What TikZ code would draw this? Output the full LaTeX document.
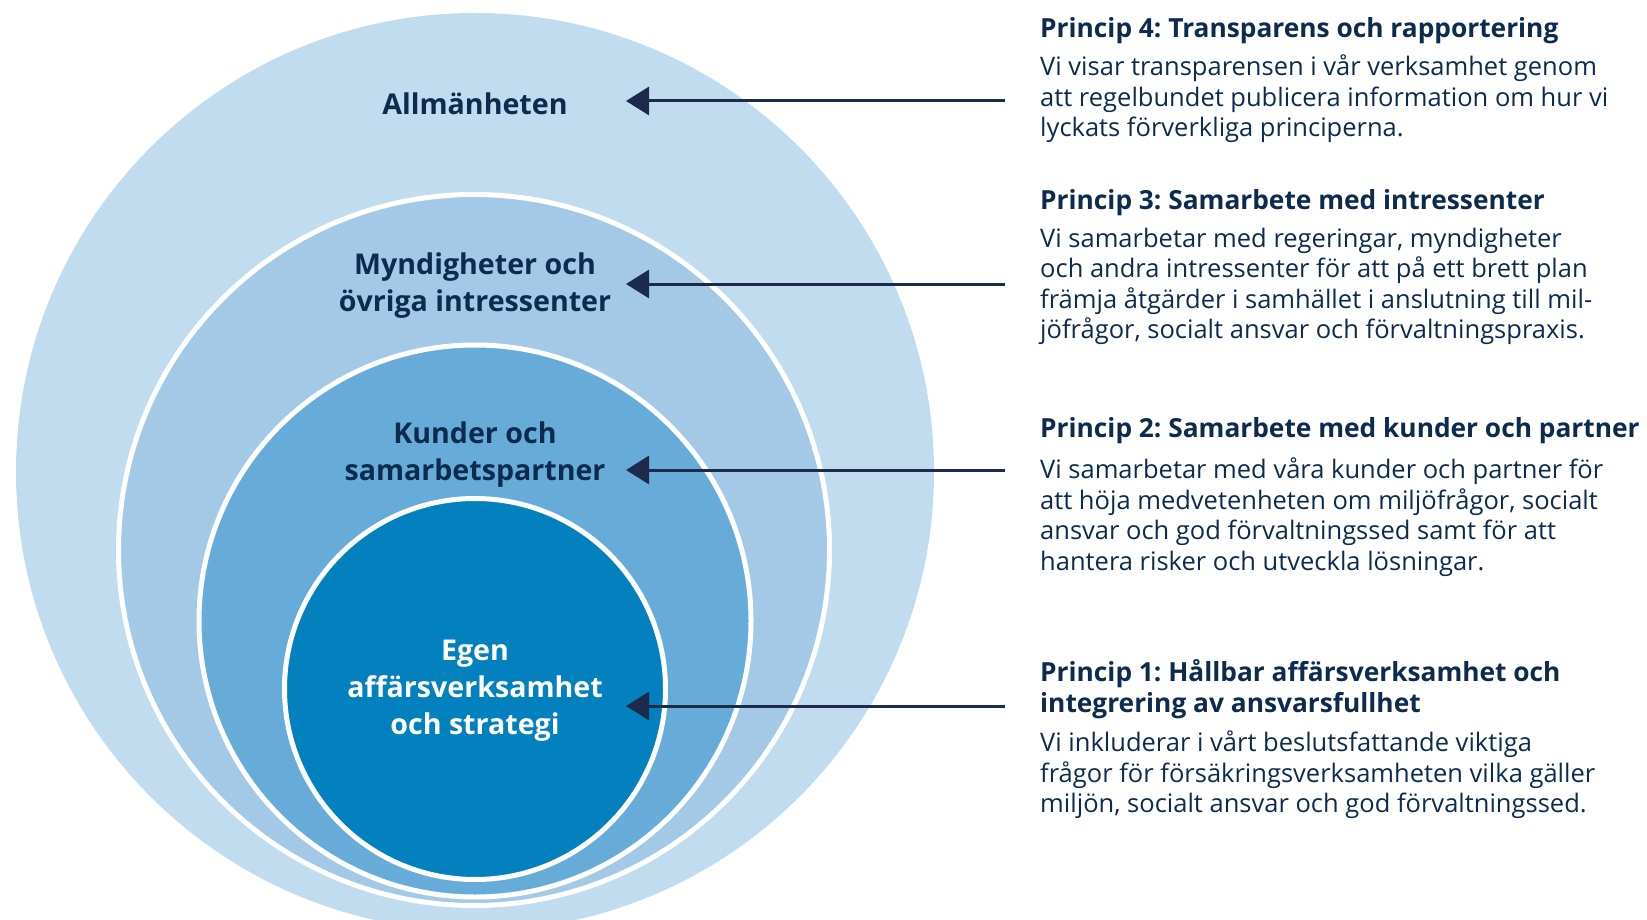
\documentclass[tikz,border=0pt]{standalone}
\usepackage{fontspec}
\setmainfont{Open Sans}
\frenchspacing
\usetikzlibrary{arrows.meta}
\definecolor{cA}{HTML}{C1DCEE}
\definecolor{cB}{HTML}{A3C9E7}
\definecolor{cC}{HTML}{67ACD8}
\definecolor{cD}{HTML}{0380BE}
\definecolor{navy}{HTML}{0D2A4F}
\definecolor{arrcol}{HTML}{1C2B4B}
\begin{document}
\begin{tikzpicture}[x=1pt,y=-1pt,
  ring/.style={draw=white,line width=5pt},
  lbl/.style={anchor=base,align=center,inner sep=0pt,text=navy,font=\bfseries\fontsize{28.6}{37}\selectfont},
  head/.style={anchor=base west,align=left,inner sep=0pt,text=navy,font=\bfseries\fontsize{26.3}{31}\selectfont},
  body/.style={anchor=base west,align=left,inner sep=0pt,text=navy,font=\fontsize{25.5}{30.5}\selectfont},
  arr/.style={draw=arrcol,line width=3pt,-{Triangle[length=23pt,width=28pt]}}]
\useasboundingbox (0,0) rectangle (1647,920);
\begin{scope}
\clip (0,0) rectangle (1647,920);
\fill[cA] (475,472) circle[radius=459pt];
\filldraw[fill=cB,ring] (474,550) circle[radius=355.5pt];
\filldraw[fill=cC,ring] (475,621) circle[radius=276pt];
\filldraw[fill=cD,ring] (475,689) circle[radius=190.5pt];
\end{scope}
% circle labels (base = last line)
\node[lbl] (l4) at (475,115) {Allmänheten};
\node[lbl] (l3) at (475,311) {Myndigheter och\\övriga intressenter};
\node[lbl] (l2) at (475,480) {Kunder och\\samarbetspartner};
\node[lbl,text=white] (l1) at (475,734.5) {Egen\\affärsverksamhet\\och strategi};
% arrows
\coordinate (s4) at (1005,101); \coordinate (e4) at (626,101);
\coordinate (s3) at (1005,284); \coordinate (e3) at (626,284);
\coordinate (s2) at (1005,470); \coordinate (e2) at (626,470);
\coordinate (s1) at (1005,706); \coordinate (e1) at (626,706);
\draw[arr] (s4) -- (e4);
\draw[arr] (s3) -- (e3);
\draw[arr] (s2) -- (e2);
\draw[arr] (s1) -- (e1);
% principles (base = last line)
\node[head] (h4) at (1040,37.5) {Princip 4: Transparens och rapportering};
\node[body] (b4) at (1040,137) {Vi visar transparensen i vår verksamhet genom\\att regelbundet publicera information om hur vi\\lyckats förverkliga principerna.};
\node[head] (h3) at (1040,209.5) {Princip 3: Samarbete med intressenter};
\node[body] (b3) at (1040,338.5) {Vi samarbetar med regeringar, myndigheter\\och andra intressenter för att på ett brett plan\\främja åtgärder i samhället i anslutning till mil-\\jöfrågor, socialt ansvar och förvaltningspraxis.};
\node[head] (h2) at (1040,437) {Princip 2: Samarbete med kunder och partner};
\node[body] (b2) at (1040,570) {Vi samarbetar med våra kunder och partner för\\att höja medvetenheten om miljöfrågor, socialt\\ansvar och god förvaltningssed samt för att\\hantera risker och utveckla lösningar.};
\node[head] (h1) at (1040,712.5) {Princip 1: Hållbar affärsverksamhet och\\integrering av ansvarsfullhet};
\node[body] (b1) at (1040,812.5) {Vi inkluderar i vårt beslutsfattande viktiga\\frågor för försäkringsverksamheten vilka gäller\\miljön, socialt ansvar och god förvaltningssed.};
\end{tikzpicture}
\end{document}
